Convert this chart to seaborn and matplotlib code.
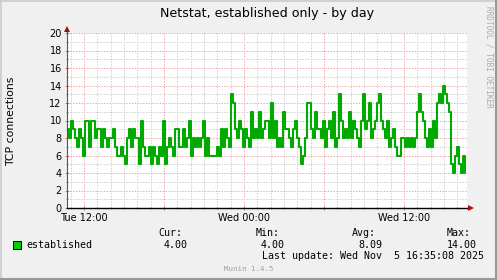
import numpy as np
import pandas as pd
import matplotlib
matplotlib.use("Agg")
import matplotlib.pyplot as plt
import matplotlib.dates as mdates
from matplotlib.ticker import MultipleLocator, FuncFormatter
from matplotlib.patches import Rectangle
from matplotlib.lines import Line2D
import seaborn as sns

# ---------------- data ----------------
title = "Netstat, established only - by day"
ylabel = "TCP connections"
series_name = "established"
start_time = "2025-11-04 10:43:30"
end_time = "2025-11-05 16:43:30"
sample_freq = "9min"
established = [
    9, 8, 10, 9, 8, 7, 9, 8, 6, 10,
    10, 7, 10, 10, 8, 9, 9, 7, 9, 8,
    7, 8, 8, 9, 7, 6, 6, 7, 6, 5,
    8, 9, 7, 9, 8, 8, 5, 10, 7, 6,
    6, 7, 5, 7, 6, 5, 7, 6, 10, 5,
    7, 8, 7, 6, 9, 9, 7, 7, 9, 7,
    8, 10, 6, 8, 7, 8, 7, 8, 10, 6,
    8, 6, 6, 6, 6, 7, 6, 9, 7, 9,
    8, 7, 13, 12, 9, 8, 10, 9, 7, 9,
    8, 7, 11, 8, 9, 8, 11, 8, 9, 10,
    10, 8, 12, 8, 10, 7, 8, 7, 11, 9,
    9, 8, 7, 9, 10, 8, 7, 5, 6, 8,
    12, 12, 9, 8, 11, 9, 9, 8, 10, 7,
    9, 10, 8, 11, 7, 8, 13, 10, 8, 9,
    8, 11, 8, 10, 9, 8, 7, 10, 13, 9,
    10, 12, 8, 9, 10, 12, 13, 10, 9, 8,
    10, 7, 8, 9, 7, 6, 6, 8, 8, 7,
    8, 7, 8, 7, 8, 11, 13, 11, 10, 8,
    7, 9, 7, 10, 8, 12, 13, 12, 14, 13,
    12, 11, 5, 4, 6, 7, 5, 4, 6, 4,
]
stat_headers = ["Cur:", "Min:", "Avg:", "Max:"]
stat_values = ["4.00", "4.00", "8.09", "14.00"]
last_update = "Last update: Wed Nov  5 16:35:08 2025"
watermark = "Munin 1.4.5"
side_text = "RRDTOOL / TOBI OETIKER"

# ---------------- figure ----------------
sns.set_theme(style="white")
plt.rcParams["font.family"] = ["DejaVu Sans"]

W, H = 497, 280
fig = plt.figure(figsize=(W / 100, H / 100), dpi=100, facecolor="#f0f0f0")


def fx(px):
    return px / W


def fy(py):
    return 1 - py / H


ax = fig.add_axes([fx(67), fy(208), fx(467) - fx(67), fy(33) - fy(208)])
ax.set_facecolor("white")

df = pd.DataFrame({
    "time": pd.date_range(start_time, periods=len(established), freq=sample_freq),
    series_name: established,
})
sns.lineplot(data=df, x="time", y=series_name, drawstyle="steps-post",
             color="#00aa00", linewidth=1.5, estimator=None, ax=ax, zorder=3)

ax.set_xlim(pd.Timestamp(start_time), pd.Timestamp(end_time))
ax.set_ylim(0, 20)

# grids
ax.xaxis.set_major_locator(mdates.HourLocator(byhour=[0, 6, 12, 18]))
ax.xaxis.set_minor_locator(mdates.HourLocator())


def xfmt(x, pos):
    d = mdates.num2date(x)
    return d.strftime("%a %H:%M") if d.hour in (0, 12) else ""


ax.xaxis.set_major_formatter(FuncFormatter(xfmt))
ax.yaxis.set_major_locator(MultipleLocator(2))
ax.yaxis.set_minor_locator(MultipleLocator(1))

ax.set_axisbelow(True)
ax.grid(which="major", color="#f2a8a8", linestyle=(0, (1.4, 1.4)), linewidth=0.72)
ax.grid(which="minor", color="#cfcfcf", linestyle=(0, (1.4, 1.4)), linewidth=0.72)

ax.tick_params(axis="both", which="major", direction="inout", length=2.5, width=0.7,
               color="#e07070", labelcolor="black", labelsize=7, pad=2.5,
               bottom=True, left=True)
ax.tick_params(axis="both", which="minor", direction="inout", length=1.5, width=0.7,
               color="#999999", bottom=True, left=True)

for s in ["top", "right"]:
    ax.spines[s].set_visible(False)
ax.spines["left"].set_color("#555555")
ax.spines["left"].set_linewidth(0.8)
ax.spines["bottom"].set_color("black")
ax.spines["bottom"].set_linewidth(1.0)
ax.spines["bottom"].set_zorder(4)

ax.set_xlabel("")
ax.set_ylabel("")
fig.text(fx(11), fy(121), ylabel, rotation=90, ha="center", va="center",
         fontsize=7.8, color="black")

# axis extensions + arrows
fig.add_artist(Line2D([fx(67), fx(67)], [fy(33), fy(29)], color="#555555", lw=0.8))
fig.add_artist(Line2D([fx(467), fx(470)], [fy(208), fy(208)], color="black", lw=1.0))
fig.add_artist(Line2D([fx(67)], [fy(29)], marker="^", markersize=4, color="#9a1010",
                      markeredgewidth=0))
fig.add_artist(Line2D([fx(471)], [fy(208)], marker=">", markersize=4, color="#b01010",
                      markeredgewidth=0))

# title
fig.text(fx(267), fy(13.5), title, ha="center", va="center", fontsize=9.1, color="black")

# side text
fig.text(fx(488.5), fy(56.5), side_text, rotation=270, ha="center", va="center",
         fontsize=5.6, family="DejaVu Sans Mono", color="#aaaaaa")

# legend
mono = dict(family="DejaVu Sans Mono", fontsize=7.2, color="black", va="center")
fig.add_artist(Rectangle((fx(13), fy(249)), fx(8), 8 / H, facecolor="#00cc00",
                         edgecolor="black", linewidth=0.7))
fig.text(fx(26.5), fy(244.5), series_name, ha="left", **mono)
header_x = [158, 256, 352, 447]
value_right = [188, 285, 382, 477]
for hx, htxt in zip(header_x, stat_headers):
    fig.text(fx(hx), fy(233.5), htxt, ha="left", **mono)
for vx, vtxt in zip(value_right, stat_values):
    fig.text(fx(vx), fy(244.5), vtxt, ha="right", **mono)
fig.text(fx(261.5), fy(256), last_update, ha="left", **mono)
fig.text(fx(249), fy(269), watermark, ha="center", va="center",
         family="DejaVu Sans Mono", fontsize=5.3, color="#a0a0a0")

# 3D frame
fig.add_artist(Line2D([0, 1], [fy(0.5), fy(0.5)], color="#cbcbcb", lw=1.2))
fig.add_artist(Line2D([fx(0.5), fx(0.5)], [0, 1], color="#cbcbcb", lw=1.2))
fig.add_artist(Line2D([0, 1], [fy(279), fy(279)], color="#999999", lw=1.5))
fig.add_artist(Line2D([fx(496), fx(496)], [0, 1], color="#999999", lw=1.5))

fig.savefig("out.png", dpi=100, facecolor=fig.get_facecolor())
